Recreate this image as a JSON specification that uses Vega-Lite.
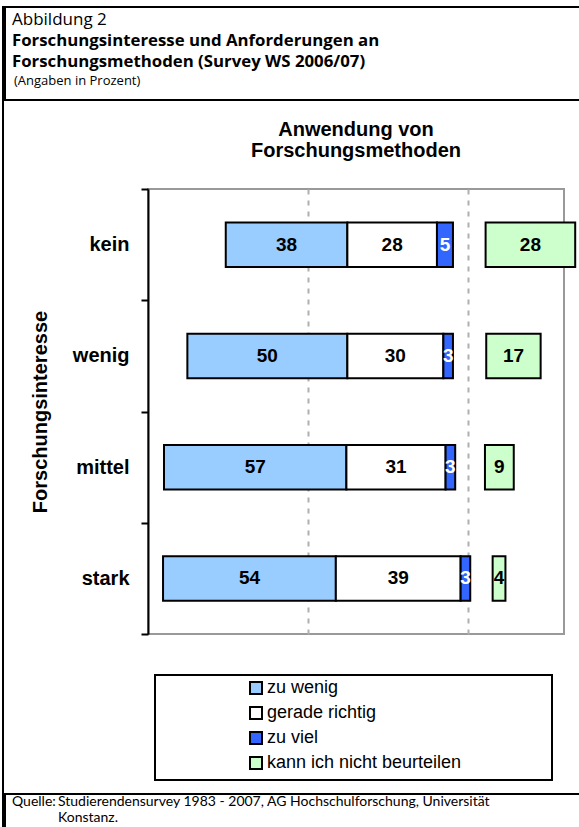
{
  "$schema": "https://vega.github.io/schema/vega-lite/v6.json",
  "background": "white",
  "padding": {"left": 2, "top": 6, "right": 0, "bottom": 0},
  "spacing": -2,
  "config": {"view": {"stroke": null}, "font": "Liberation Sans"},
  "resolve": {"scale": {"color": "independent", "fill": "independent"}, "legend": {"color": "independent", "fill": "independent"}},
  "hconcat": [
    {
      "width": 0.01, "height": 830,
      "view": {"stroke": "black", "strokeWidth": 2},
      "data": {"values": []},
      "mark": {"type": "point"},
      "encoding": {}
    },
    {
      "spacing": 18,
      "resolve": {"scale": {"color": "independent", "fill": "independent"}, "legend": {"color": "independent", "fill": "independent"}},
      "vconcat": [
        {
          "width": 580, "height": 93,
          "view": {"stroke": "black", "strokeWidth": 2},
          "data": {"values": [
            {"Zeile": 1, "Text": "Abbildung 2"},
            {"Zeile": 2, "Text": "Forschungsinteresse und Anforderungen an"},
            {"Zeile": 3, "Text": "Forschungsmethoden (Survey WS 2006/07)"},
            {"Zeile": 4, "Text": "(Angaben in Prozent)"}
          ]},
          "encoding": {
            "x": {"value": 0},
            "y": {"field": "Zeile", "type": "ordinal", "axis": null, "scale": {"type": "point", "padding": 0.72}},
            "text": {"field": "Text"}
          },
          "layer": [
            {
              "transform": [{"filter": "datum.Zeile == 1"}],
              "mark": {"type": "text", "align": "left", "baseline": "alphabetic", "font": "Open Sans", "fontSize": 17, "fontWeight": "normal", "dx": 7, "dy": 3, "color": "black"}
            },
            {
              "transform": [{"filter": "datum.Zeile == 2 || datum.Zeile == 3"}],
              "mark": {"type": "text", "align": "left", "baseline": "alphabetic", "font": "Open Sans", "fontSize": 16.8, "fontWeight": "bold", "dx": 7, "dy": 3, "color": "black"}
            },
            {
              "transform": [{"filter": "datum.Zeile == 4"}],
              "mark": {"type": "text", "align": "left", "baseline": "alphabetic", "font": "Open Sans", "fontSize": 13, "fontWeight": "normal", "dx": 9, "dy": 0, "color": "black"}
            }
          ]
        },
        {
          "spacing": 38,
          "resolve": {"scale": {"color": "independent", "fill": "independent"}, "legend": {"color": "independent", "fill": "independent"}},
          "vconcat": [
            {
              "spacing": 0,
              "resolve": {"scale": {"color": "independent", "fill": "independent"}, "legend": {"color": "independent", "fill": "independent"}},
              "hconcat": [
                {
                  "width": 0.01, "height": 0.01,
                  "data": {"values": []},
                  "mark": {"type": "point"},
                  "encoding": {}
                },
                {
                  "width": 416, "height": 445,
                  "view": {"stroke": "#999999", "strokeWidth": 2},
                  "title": {"text": ["Anwendung von", "Forschungsmethoden"], "font": "Liberation Sans", "fontSize": 20, "fontWeight": "bold", "lineHeight": 21, "anchor": "middle", "offset": 18, "color": "black"},
                  "data": {"values": [
                    {"Interesse": "kein", "Kategorie": "Versatz", "Wert": 24.3},
                    {"Interesse": "kein", "Kategorie": "zu wenig", "Wert": 38},
                    {"Interesse": "kein", "Kategorie": "gerade richtig", "Wert": 28},
                    {"Interesse": "kein", "Kategorie": "zu viel", "Wert": 5},
                    {"Interesse": "kein", "Kategorie": "Abstand", "Wert": 10.2},
                    {"Interesse": "kein", "Kategorie": "kann ich nicht beurteilen", "Wert": 28},
                    {"Interesse": "wenig", "Kategorie": "Versatz", "Wert": 12.3},
                    {"Interesse": "wenig", "Kategorie": "zu wenig", "Wert": 50},
                    {"Interesse": "wenig", "Kategorie": "gerade richtig", "Wert": 30},
                    {"Interesse": "wenig", "Kategorie": "zu viel", "Wert": 3},
                    {"Interesse": "wenig", "Kategorie": "Abstand", "Wert": 10.4},
                    {"Interesse": "wenig", "Kategorie": "kann ich nicht beurteilen", "Wert": 17},
                    {"Interesse": "mittel", "Kategorie": "Versatz", "Wert": 5},
                    {"Interesse": "mittel", "Kategorie": "zu wenig", "Wert": 57},
                    {"Interesse": "mittel", "Kategorie": "gerade richtig", "Wert": 31},
                    {"Interesse": "mittel", "Kategorie": "zu viel", "Wert": 3},
                    {"Interesse": "mittel", "Kategorie": "Abstand", "Wert": 9.3},
                    {"Interesse": "mittel", "Kategorie": "kann ich nicht beurteilen", "Wert": 9},
                    {"Interesse": "stark", "Kategorie": "Versatz", "Wert": 4.7},
                    {"Interesse": "stark", "Kategorie": "zu wenig", "Wert": 54},
                    {"Interesse": "stark", "Kategorie": "gerade richtig", "Wert": 39},
                    {"Interesse": "stark", "Kategorie": "zu viel", "Wert": 3},
                    {"Interesse": "stark", "Kategorie": "Abstand", "Wert": 7},
                    {"Interesse": "stark", "Kategorie": "kann ich nicht beurteilen", "Wert": 4}
                  ]},
                  "transform": [
                    {"calculate": "indexof(['Versatz','zu wenig','gerade richtig','zu viel','Abstand','kann ich nicht beurteilen'], datum.Kategorie)", "as": "k"},
                    {"stack": "Wert", "groupby": ["Interesse"], "sort": [{"field": "k", "order": "ascending"}], "as": ["x0", "x1"]},
                    {"calculate": "(datum.x0 + datum.x1) / 2", "as": "xm"}
                  ],
                  "encoding": {
                    "y": {
                      "field": "Interesse", "type": "nominal", "sort": ["kein", "wenig", "mittel", "stark"],
                      "scale": {"paddingInner": 0, "paddingOuter": 0},
                      "axis": {
                        "title": "Forschungsinteresse", "titleFont": "Liberation Sans", "titleFontSize": 20, "titleFontWeight": "bold", "titleColor": "black",
                        "titleX": -98, "titlePadding": 4,
                        "labelFont": "Liberation Sans", "labelFontSize": 20, "labelFontWeight": "bold", "labelColor": "black", "labelPadding": 12,
                        "tickBand": "extent", "tickSize": 7, "tickWidth": 2, "tickColor": "black",
                        "domainColor": "black", "domainWidth": 2,
                        "minExtent": 141, "maxExtent": 141
                      }
                    }
                  },
                  "layer": [
                    {
                      "mark": {"type": "bar", "strokeWidth": 2, "height": {"band": 0.4}},
                      "encoding": {
                        "x": {"field": "x0", "type": "quantitative", "scale": {"domain": [0, 130], "nice": false},
                          "axis": {"values": [50, 100], "grid": true, "gridDash": [5, 6], "gridColor": "#b0b0b0", "gridWidth": 2, "labels": false, "ticks": false, "domain": false, "title": null}},
                        "x2": {"field": "x1"},
                        "color": {"field": "Kategorie", "type": "nominal",
                          "scale": {"domain": ["Versatz", "zu wenig", "gerade richtig", "zu viel", "Abstand", "kann ich nicht beurteilen"],
                                    "range": ["transparent", "#99CCFF", "#FFFFFF", "#3366FF", "transparent", "#CCFFCC"]},
                          "legend": null},
                        "stroke": {"condition": {"test": "datum.k == 0 || datum.k == 4", "value": "transparent"}, "value": "black"},
                        "opacity": {"value": 1}
                      }
                    },
                    {
                      "transform": [{"filter": "datum.k != 0 && datum.k != 4"}],
                      "mark": {"type": "text", "font": "Liberation Sans", "fontSize": 19, "fontWeight": "bold"},
                      "encoding": {
                        "x": {"field": "xm", "type": "quantitative"},
                        "text": {"field": "Wert"},
                        "color": {"condition": {"test": "datum.k == 3", "value": "white"}, "value": "black"}
                      }
                    }
                  ]
                }
              ]
            },
            {
              "spacing": 12,
              "resolve": {"scale": {"color": "independent", "fill": "independent"}, "legend": {"color": "independent", "fill": "independent"}},
              "vconcat": [
                {
                  "spacing": 148,
                  "resolve": {"scale": {"color": "independent", "fill": "independent"}, "legend": {"color": "independent", "fill": "independent"}},
                  "hconcat": [
                    {
                      "width": 0.01, "height": 0.01,
                      "data": {"values": []},
                      "mark": {"type": "point"},
                      "encoding": {}
                    },
                    {
                      "width": 397, "height": 105,
                      "view": {"stroke": "black", "strokeWidth": 2},
                      "data": {"values": [
                        {"Kategorie": "zu wenig"},
                        {"Kategorie": "gerade richtig"},
                        {"Kategorie": "zu viel"},
                        {"Kategorie": "kann ich nicht beurteilen"}
                      ]},
                      "mark": {"type": "square", "size": 0, "filled": true},
                      "encoding": {
                        "fill": {"field": "Kategorie", "type": "nominal",
                          "scale": {"domain": ["zu wenig", "gerade richtig", "zu viel", "kann ich nicht beurteilen"],
                                    "range": ["#99CCFF", "#FFFFFF", "#3366FF", "#CCFFCC"]},
                          "legend": {
                            "orient": "none", "legendX": 92, "legendY": 4, "title": null, "padding": 0,
                            "symbolType": "square", "symbolSize": 144, "symbolStrokeColor": "black", "symbolStrokeWidth": 2, "symbolOpacity": 1,
                            "labelFont": "Liberation Sans", "labelFontSize": 18, "labelColor": "black", "labelOffset": 2, "rowPadding": 5, "labelLimit": 400
                          }
                        }
                      }
                    }
                  ]
                },
                {
                  "width": 580, "height": 40,
                  "view": {"stroke": "black", "strokeWidth": 2},
                  "data": {"values": [
                    {"Spalte": "Quelle", "Zeile": 1, "Text": "Quelle:"},
                    {"Spalte": "Angabe", "Zeile": 1, "Text": "Studierendensurvey 1983 - 2007, AG Hochschulforschung, Universität"},
                    {"Spalte": "Angabe", "Zeile": 2, "Text": "Konstanz."}
                  ]},
                  "mark": {"type": "text", "align": "left", "baseline": "alphabetic", "font": "Lato", "fontSize": 14, "color": "black"},
                  "encoding": {
                    "x": {"field": "Spalte", "type": "ordinal", "sort": ["Quelle", "Angabe"], "axis": null, "scale": {"type": "point", "range": [7, 53], "padding": 0}},
                    "y": {"field": "Zeile", "type": "ordinal", "axis": null, "scale": {"type": "point", "range": [12, 28], "padding": 0}},
                    "text": {"field": "Text"}
                  }
                }
              ]
            }
          ]
        }
      ]
    }
  ]
}
